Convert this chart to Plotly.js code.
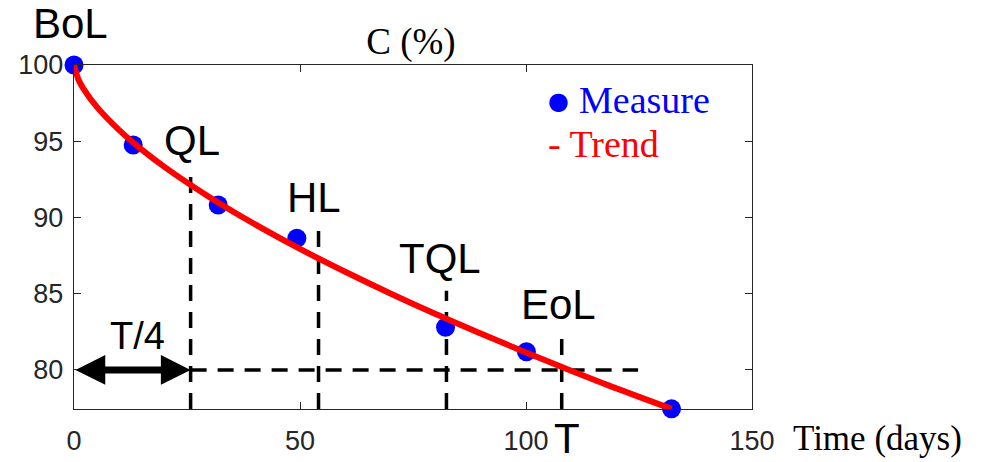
<!DOCTYPE html>
<html>
<head>
<meta charset="utf-8">
<script src="https://cdn.plot.ly/plotly-3.0.1.min.js"></script>
<style>html,body{margin:0;padding:0;background:#fff;}#chart{width:986px;height:462px;}</style>
</head>
<body>
<div id="chart"></div>
<script>
// Measured points
var measureT = [0, 13.1, 31.9, 49.3, 82.2, 100.1, 132.2];
var measureC = [100, 94.75, 90.82, 88.64, 82.8, 81.2, 77.45];
// Trend curve
var trendT = [0, 1, 2, 5, 10, 15, 20, 30, 40, 50, 60, 70, 80, 90, 100, 110, 120, 132.2];
var trendC = [100, 99.03, 98.49, 97.27, 95.73, 94.45, 93.32, 91.33, 89.56, 87.94, 86.44, 85.02, 83.67, 82.39, 81.14, 79.95, 78.79, 77.45];
// Life stage markers
var stageNames = ['QL', 'HL', 'TQL', 'EoL'];
var stageT = [25.8, 54.1, 82.4, 107.9];
var stageTop = [93.0, 89.66, 85.2, 82.2];
var thresholdC = 80;
var thresholdEndT = 124.8;
var yMin = 77.44, yMax = 100;
var xTicks = [0, 50, 100, 150];
var yTicks = [80, 85, 90, 95, 100];

var L = 74, R = 234, T = 65, B = 53, W = 986, H = 462;
var pw = W - L - R, ph = H - T - B;
function px(v) { return (v - L) / pw; }
function py(v) { return (H - B - v) / ph; }

var vx = [], vy = [];
for (var i = 0; i < stageT.length; i++) {
  vx.push(stageT[i], stageT[i], null);
  vy.push(yMin, stageTop[i], null);
}
vx.push(stageT[0], thresholdEndT);
vy.push(thresholdC, thresholdC);

var traces = [
  {x: vx, y: vy, mode: 'lines', line: {color: '#000', width: 3.5, dash: '16px,11px'}, hoverinfo: 'skip', cliponaxis: false},
  {x: measureT, y: measureC, mode: 'markers', marker: {color: '#0000ff', size: 19}, cliponaxis: false},
  {x: trendT, y: trendC, mode: 'lines', line: {color: '#ff0000', width: 6, shape: 'spline'}, cliponaxis: false}
];

var sans = 'Liberation Sans, Arial, sans-serif';
var serif = 'Liberation Serif, Times New Roman, serif';
var labelFont = {family: sans, size: 42, color: '#000'};
function lab(text, x, y, font) {
  return {x: px(x), y: py(y), xref: 'paper', yref: 'paper', xanchor: 'center', yanchor: 'middle',
          text: text, showarrow: false, font: font || labelFont};
}
var ann = [
  lab('BoL', 70, 23),
  lab(stageNames[0], 192, 140),
  lab(stageNames[1], 314, 197),
  lab(stageNames[2], 440, 258),
  lab(stageNames[3], 558, 304),
  lab('T/4', 137, 336, {family: sans, size: 38, color: '#000'}),
  lab('T', 567, 438.5),
  {x: stageT[0], y: thresholdC, ax: 0, ay: thresholdC, xref: 'x', yref: 'y', axref: 'x', ayref: 'y',
   text: '', showarrow: true, arrowhead: 2, startarrowhead: 2, arrowside: 'end+start',
   arrowsize: 0.85, startarrowsize: 0.85, arrowwidth: 7, arrowcolor: '#000', standoff: 0, startstandoff: 0},
  lab('●', 558, 101, {family: 'DejaVu Sans', size: 24, color: '#0000ff'}),
  {x: px(577), y: py(100), xref: 'paper', yref: 'paper', xanchor: 'left', yanchor: 'middle', showarrow: false,
   text: 'Measure', font: {family: serif, size: 38, color: '#0000ff'}},
  {x: px(546), y: py(143.5), xref: 'paper', yref: 'paper', xanchor: 'left', yanchor: 'middle', showarrow: false,
   text: '- Trend', font: {family: serif, size: 38, color: '#ff0000'}},
  lab('Time (days)', 877, 438, {family: serif, size: 35, color: '#000'})
];

var axisCommon = {
  showline: true, linecolor: '#262626', linewidth: 1.2, mirror: 'ticks',
  ticks: 'inside', ticklen: 7, tickcolor: '#262626', tickwidth: 1,
  showgrid: false, zeroline: false,
  tickfont: {family: sans, size: 27, color: '#262626'}
};

var layout = {
  width: W, height: H,
  margin: {l: L, r: R, t: T, b: B},
  paper_bgcolor: '#fff', plot_bgcolor: '#fff',
  showlegend: false,
  title: {text: 'C (%)', font: {family: serif, size: 37, color: '#000'},
          xref: 'paper', x: px(411), xanchor: 'center', yref: 'container', y: 1 - 41 / H, yanchor: 'middle'},
  xaxis: Object.assign({}, axisCommon, {range: [0, 150], tickvals: xTicks, ticktext: xTicks.map(String), ticklabelstandoff: 7}),
  yaxis: Object.assign({}, axisCommon, {range: [yMin, yMax], tickvals: yTicks, ticktext: yTicks.map(String), ticklabelstandoff: 4}),
  annotations: ann
};

Plotly.newPlot('chart', traces, layout, {staticPlot: true});
</script>
</body>
</html>
